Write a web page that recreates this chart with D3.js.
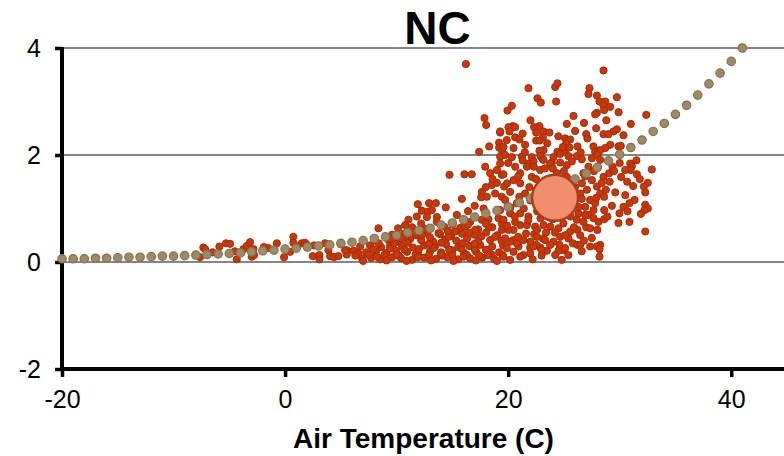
<!DOCTYPE html>
<html>
<head>
<meta charset="utf-8">
<script src="https://cdn.jsdelivr.net/npm/d3@7"></script>
<style>
  html, body { margin: 0; padding: 0; background: #fff; }
  svg { display: block; font-family: "Liberation Sans", Arial, sans-serif; }
</style>
</head>
<body>
<svg id="chart" width="784" height="456"></svg>
<script>
// Chart title and axis labels
const chartTitle = "NC";
const xTitle = "Air Temperature (C)";
const xTicks = [-20, 0, 20, 40];
const yTicks = [-2, 0, 2, 4];
const gridTicks = [0, 2, 4];

// Fitted curve, one bead per degree
const curveTemps = [-20,-19,-18,-17,-16,-15,-14,-13,-12,-11,-10,-9,-8,-7,-6,-5,-4,-3,-2,-1,
  0,1,2,3,4,5,6,7,8,9,10,11,12,13,14,15,16,17,18,19,20,21,22,23,24,25,26,27,28,29,30,
  31,32,33,34,35,36,37,38,39,40,41];
const curveValues = [0.06,0.06,0.06,0.07,0.07,0.08,0.09,0.09,0.10,0.11,0.11,0.12,0.13,0.14,0.15,0.16,0.17,0.19,0.21,0.22,
  0.24,0.26,0.28,0.30,0.32,0.35,0.37,0.40,0.44,0.47,0.50,0.55,0.59,0.63,0.69,0.73,0.79,0.84,0.91,0.96,1.03,1.11,1.19,1.27,1.36,1.45,1.55,1.66,1.77,1.89,2.01,
  2.14,2.28,2.44,2.59,2.76,2.93,3.12,3.33,3.53,3.75,4.00];

// Mean of observations
const meanTemp = [24.2];
const meanValue = [1.2];

// Individual observations: [air temperature, value]
const observations = [
  // cold end
  [-7.33,0.27],[-7.17,0.24],[-7.62,0.09],[-5.89,0.29],[-5.29,0.35],[-4.93,0.34],[-4.33,0.05],[-3.74,0.24],
  [-3.43,0.30],[-3.14,0.37],[-2.84,0.24],[-2.99,0.10],[-2.78,0.13],[-1.50,0.26],[-0.74,0.35],[-0.09,0.09],
  [0.45,0.19],[0.74,0.47],[0.74,0.36],[1.50,0.35],[1.79,0.36],[1.95,0.32],[2.48,0.11],[3.08,0.13],[3.08,0.05],
  [3.59,0.35],[3.88,0.22],[4.04,0.11],[4.39,0.09],[4.78,0.11],[5.53,0.22],[5.53,0.14],[6.13,0.21],[6.57,0.16],
  [-6.5,0.18],[-1.9,0.28],[1.1,0.29],[2.6,0.31],[5.0,0.33],[-4.5,0.20],[5.38,0.22],
  // 8-20 C, upper scatter
  [14.74,1.63],[16.08,1.64],[16.74,1.64],[17.94,1.78],[18.39,1.66],[19.28,1.84],[19.43,1.63],[18.54,1.44],
  [18.99,1.48],[17.64,1.31],[17.58,1.21],[18.09,1.22],[15.85,1.18],[18.83,1.28],[19.43,1.22],[11.90,1.08],
  [12.91,1.10],[13.52,1.10],[12.26,0.96],[12.80,0.94],[13.16,0.97],[14.41,1.02],[11.06,0.79],[11.81,0.85],
  [12.71,0.84],[13.61,0.84],[15.40,0.88],[8.37,0.63],[10.76,0.69],[16.59,0.75],[17.64,0.79],[18.23,0.80],
  [19.13,0.82],[19.43,0.72],
  [16.21,3.70],[17.88,2.69],[18.03,2.56],[19.28,2.42],[18.30,2.16],[17.40,2.06],[19.19,2.23],[19.19,2.14],
  [19.43,2.09],[19.28,1.97],
  // 8-20 C, dense band near zero
  [6.91,0.06],[7.71,0.08],[8.52,0.05],[9.60,0.09],[10.40,0.07],[11.39,0.04],[12.47,0.08],[13.54,0.06],
  [14.53,0.09],[15.52,0.05],[16.59,0.07],[17.67,0.08],[18.74,0.06],
  [7.26,0.18],[8.16,0.20],[9.06,0.17],[9.96,0.21],[10.94,0.19],[11.93,0.16],[13.00,0.20],[13.99,0.18],
  [14.98,0.22],[16.05,0.17],[17.13,0.19],[18.21,0.21],[19.19,0.18],
  [6.73,0.29],[7.62,0.31],[8.61,0.28],[9.42,0.32],[10.49,0.30],[11.48,0.27],[12.47,0.31],[13.45,0.29],
  [14.44,0.33],[15.52,0.28],[16.50,0.30],[17.49,0.32],[18.57,0.29],[19.55,0.31],
  [8.07,0.40],[9.24,0.42],[10.13,0.39],[11.21,0.43],[12.20,0.41],[13.27,0.38],[14.35,0.42],[15.34,0.40],
  [16.32,0.44],[17.31,0.39],[18.39,0.41],
  [9.60,0.51],[10.67,0.53],[11.75,0.50],[12.74,0.54],[13.90,0.52],[14.89,0.49],[15.87,0.53],[16.95,0.51],
  [18.03,0.55],[19.01,0.50],
  [10.13,0.63],[11.39,0.65],[12.56,0.62],[14.26,0.66],[15.70,0.64],[17.31,0.61],[18.57,0.65],
  [6.3,0.12],[7.5,0.14],[8.9,0.13],[10.2,0.12],[11.7,0.14],[12.9,0.13],[14.1,0.12],[15.0,0.14],
  [16.3,0.13],[17.4,0.12],[18.5,0.14],[19.5,0.13],
  [7.9,0.24],[9.4,0.25],[10.7,0.23],[12.0,0.24],[13.3,0.26],[14.7,0.23],[15.8,0.25],[17.0,0.24],[18.0,0.23],
  [9.8,0.35],[11.0,0.36],[12.9,0.34],[14.0,0.36],[15.9,0.35],[17.0,0.34],
  [15.25,0.57],[16.14,0.66],[17.04,0.60],[18.23,0.66],[18.83,0.47],[14.65,0.47],[13.75,0.54],[12.26,0.50],
  [10.76,0.47],[9.57,0.44],
  [7.0,0.02],[8.2,0.10],[9.1,0.03],[10.0,0.14],[10.9,0.02],[11.9,0.09],[13.1,0.03],[14.0,0.15],[15.1,0.02],
  [16.0,0.10],[17.1,0.03],[18.2,0.13],[19.0,0.02],
  [8.4,0.35],[10.4,0.44],[11.6,0.56],[13.0,0.46],[14.6,0.58],[16.5,0.55],[17.6,0.48],[19.4,0.40],[12.2,0.72],
  [13.6,0.75],[15.0,0.70],[16.4,0.70],[18.0,0.72],
  // 20-33 C, upper scatter
  [28.55,3.58],[21.82,3.25],[24.22,3.27],[24.42,3.34],[22.63,3.06],[22.93,2.98],[24.30,3.00],[20.33,2.92],
  [19.94,2.83],[27.29,3.25],[27.20,3.14],[27.96,3.11],[28.19,3.00],[28.70,3.00],[29.75,3.08],[28.55,2.92],
  [29.15,2.90],[28.61,2.84],[27.96,2.79],[27.80,2.76],[32.38,2.75],[25.86,2.73],[25.26,2.58],[31.00,2.58],
  [27.89,2.50],[20.42,2.54],[20.63,2.52],[20.03,2.52],[22.81,2.54],[22.33,2.52],[19.28,2.44],[20.12,2.44],
  [22.51,2.42],[23.17,2.44],[23.70,2.42],[29.45,2.44],[29.75,2.48],[28.55,2.39],[29.00,2.39],[27.00,2.39],
  [27.11,2.31],[30.34,2.37],[19.88,2.28],[20.63,2.33],[21.01,2.29],[23.11,2.33],[22.51,2.27],[22.81,2.27],
  [25.11,2.31],[25.32,2.27],[25.56,2.29],[25.20,2.21],[21.52,2.19],[19.58,2.15],[20.48,2.13],[23.17,2.09],
  [22.81,2.08],[24.42,2.06],[25.11,2.09],[25.50,2.14],[26.22,2.16],[27.65,2.16],[27.80,2.06],[28.25,2.09],
  [29.15,2.19],[29.89,2.16],[19.73,2.00],[20.33,1.96],[21.23,1.97],[22.12,1.96],[23.11,1.92],[24.06,1.96],
  [24.66,2.02],[25.41,1.98],[26.16,1.98],[26.61,1.92],[27.51,1.94],[28.01,2.00],[28.25,1.91],[30.94,1.84],
  [23.92,1.86],[21.82,1.84],[30.10,2.17],[28.70,2.13],
  [21.3,2.40],[22.0,2.65],[23.5,2.22],[24.5,2.35],[26.0,2.45],[26.8,2.60],[28.8,2.65],[29.9,2.80],[24.9,2.15],
  [26.5,2.05],[21.5,2.05],[22.9,1.98],
  // 20-33 C, middle and lower scatter
  [32.88,1.73],[32.52,1.48],[32.17,1.41],[32.29,1.30],[31.54,1.64],[31.09,1.79],[30.97,1.72],[30.49,1.72],
  [30.13,1.59],[30.67,1.50],[31.21,1.42],[31.33,1.16],[30.88,1.10],[32.29,1.07],[32.52,1.00],[32.22,0.97],
  [30.34,1.03],[29.98,0.91],[30.88,0.75],[29.89,0.73],[32.29,0.57],[28.61,0.97],[28.10,0.75],[27.65,0.97],
  [27.20,0.88],[27.00,0.65],[28.25,0.32],[27.96,0.29],[28.19,0.24],[28.19,0.10],[26.30,0.91],[26.21,0.60],
  [25.41,0.44],[25.80,0.35],[26.21,0.32],[24.96,0.22],[24.51,0.21],[24.06,0.38],[23.47,0.21],[23.11,0.44],
  [22.87,0.27],[22.51,0.32],[22.33,0.52],[21.97,0.27],[21.37,0.13],[20.93,0.29],[20.48,0.41],[20.18,0.38],
  [19.88,0.26],[19.58,0.10],[20.18,0.04],[19.73,0.44],[20.48,0.60],[20.03,0.60],[19.43,0.60],[21.08,0.69],
  [21.68,0.69],[22.42,0.66],[23.17,0.69],[23.77,0.66],[24.51,0.63],[24.96,0.72],[26.16,0.79],[26.75,0.75],
  [27.65,0.82],[28.61,0.80],
  [19.58,1.64],[19.64,1.41],[20.18,1.31],[20.63,1.78],[21.08,1.66],[21.68,1.78],[22.12,1.59],[22.27,1.88],
  [23.17,1.91],[23.77,1.84],[24.66,1.86],[25.26,1.81],[25.71,1.88],[26.61,1.47],[27.06,1.35],[27.51,1.53],
  [27.96,1.41],[28.25,1.28],[28.61,1.22],[27.35,1.16],[27.80,1.10],[28.76,1.35],[29.06,1.66],[29.36,1.78],
  [28.55,1.59],[27.20,1.78],[26.75,1.66],[26.46,1.28],[26.91,1.03],[26.30,1.03],[25.86,1.22],[20.78,1.10],
  [20.18,0.91],[21.08,0.91],[21.82,0.85],[19.58,0.79],[20.63,0.75],[19.28,0.97],[19.73,1.16],[21.08,1.47],
  [21.52,1.28],[20.48,1.53],[22.87,1.72],[24.36,1.66],[25.26,1.59],
  [20.78,0.35],[21.37,0.41],[22.27,0.29],[23.02,0.22],[23.77,0.32],[24.22,0.13],[25.11,0.26],[26.46,0.32],
  [27.35,0.29],[20.48,0.19],[21.08,0.10],[21.97,0.16],[22.57,0.47],[23.32,0.41],[24.66,0.47],[25.56,0.57],
  [26.46,0.50],[27.35,0.63],
  [19.9,0.68],[20.6,0.85],[21.4,1.00],[22.0,1.15],[22.6,0.95],[21.8,0.78],[22.9,0.82],[20.2,1.02],[21.0,1.22],
  [21.9,1.40],[22.5,1.55],[20.9,1.60],[19.9,1.47],[23.3,1.75],[24.0,1.75],[25.0,1.70],[22.3,1.78],[21.3,1.90],
  [20.0,1.85],[19.0,1.72],[18.6,1.55],[18.0,1.40],[17.0,1.05],[16.4,0.95],[17.8,1.00],
  [26.0,1.40],[26.9,1.60],[27.7,1.70],[28.4,1.48],[29.1,1.50],[29.6,1.30],[29.3,1.05],[28.9,0.85],[28.0,0.60],
  [27.5,0.45],[26.8,0.40],[25.6,0.85],[26.6,1.18],[27.9,1.20],[29.5,1.70],[30.0,1.85],[31.5,1.90],[30.5,1.25],
  [31.8,1.55],[31.9,0.90],[30.7,0.95],
  [23.4,0.55],[24.2,0.55],[25.1,0.50],[24.0,0.80],[22.6,0.60],[21.6,0.53],[20.9,0.47],[22.0,0.38],[25.9,0.65],
  [26.9,0.88],[24.6,0.32],[23.0,0.12],[25.4,0.13],[26.6,0.20],[22.2,0.05],[24.8,0.04]
];

const width = 784, height = 456;
const svg = d3.select("#chart");

const x = d3.scaleLinear().domain([-20, 45]).range([62, 787]);
const y = d3.scaleLinear().domain([-2, 4]).range([369, 48]);

// Horizontal gridlines
svg.append("g").selectAll("line").data(gridTicks).join("line")
  .attr("x1", x(-20)).attr("x2", width)
  .attr("y1", d => y(d)).attr("y2", d => y(d))
  .attr("stroke", "#858585").attr("stroke-width", 2);

// Axes
const xAxis = svg.append("g")
  .attr("transform", `translate(0,${y(-2)})`)
  .call(d3.axisBottom(x).tickValues(xTicks).tickSize(8).tickSizeOuter(0).tickPadding(13)
    .tickFormat(d => String(d)));
const yAxis = svg.append("g")
  .attr("transform", `translate(${x(-20)},0)`)
  .call(d3.axisLeft(y).tickValues(yTicks).tickSize(7).tickSizeOuter(0).tickPadding(14)
    .tickFormat(d => String(d)));

[xAxis, yAxis].forEach(g => {
  g.select(".domain").attr("stroke", "#000").attr("stroke-width", 4);
  g.selectAll(".tick line").attr("stroke", "#000").attr("stroke-width", 3.5);
  g.selectAll(".tick text").attr("fill", "#000").style("font-size", "25px")
    .style("font-family", "'Liberation Sans', Arial, sans-serif");
});
// extend the y-axis line down to meet the x-axis line
yAxis.select(".domain").attr("d", `M0,${y(4) - 1}V${y(-2) + 2}`);
xAxis.select(".domain").attr("d", `M${x(-20) - 2},0H${width}`);

// Observations
svg.append("g").selectAll("circle").data(observations).join("circle")
  .attr("cx", d => x(d[0])).attr("cy", d => y(d[1])).attr("r", 3.6)
  .attr("fill", "#C9380B").attr("stroke", "#A52C06").attr("stroke-width", 1);

// Fitted curve beads
svg.append("g").selectAll("circle").data(curveTemps).join("circle")
  .attr("cx", d => x(d)).attr("cy", (d, i) => y(curveValues[i])).attr("r", 4.2)
  .attr("fill", "#A08A66").attr("stroke", "#84704E").attr("stroke-width", 1.2);

// Mean marker
svg.append("g").selectAll("circle").data(meanTemp).join("circle")
  .attr("cx", d => x(d)).attr("cy", (d, i) => y(meanValue[i])).attr("r", 23)
  .attr("fill", "#F08E6E").attr("stroke", "#AD3C1B").attr("stroke-width", 2.5);

// Titles
svg.append("text").attr("x", 437.5).attr("y", 44).attr("text-anchor", "middle")
  .style("font-size", "46px").style("font-weight", "bold").text(chartTitle);
svg.append("text").attr("x", 423.5).attr("y", 448).attr("text-anchor", "middle")
  .style("font-size", "28px").style("font-weight", "bold").text(xTitle);
</script>
</body>
</html>
